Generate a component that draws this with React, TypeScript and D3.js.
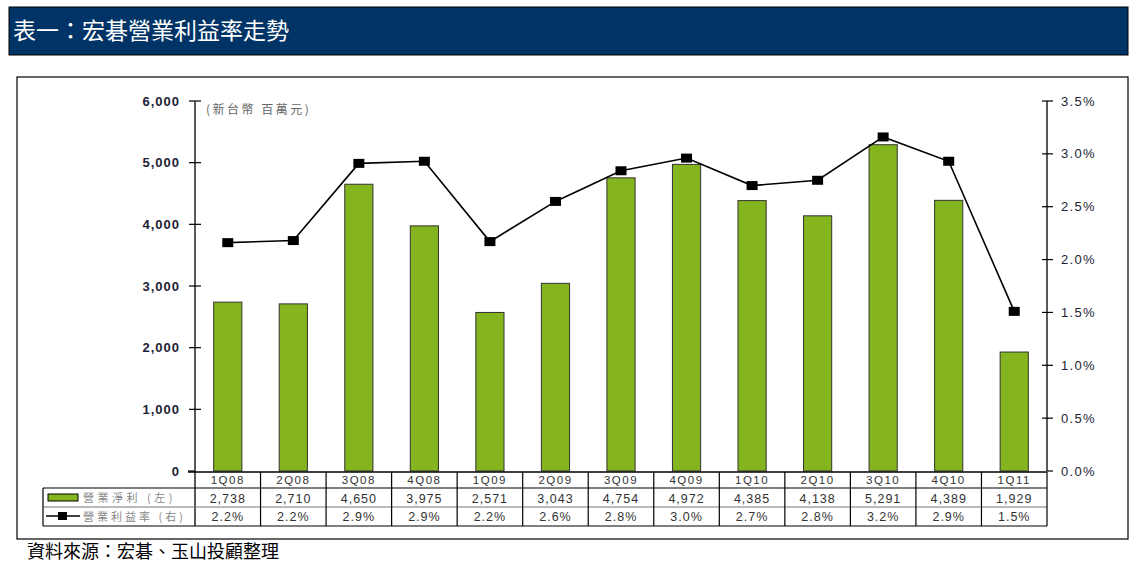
import React from "react";
import * as d3 from "d3";

const categories = ["1Q08","2Q08","3Q08","4Q08","1Q09","2Q09","3Q09","4Q09","1Q10","2Q10","3Q10","4Q10","1Q11"];
const profit = [2738,2710,4650,3975,2571,3043,4754,4972,4385,4138,5291,4389,1929];
const marginPlot = [2.16,2.18,2.91,2.93,2.17,2.55,2.84,2.96,2.70,2.75,3.16,2.93,1.51];
const marginLabels = ["2.2%","2.2%","2.9%","2.9%","2.2%","2.6%","2.8%","3.0%","2.7%","2.8%","3.2%","2.9%","1.5%"];
const leftTicks = [0,1000,2000,3000,4000,5000,6000];
const rightTicks = [0,0.5,1,1.5,2,2.5,3,3.5];

const W = 1145, H = 566;
const X0 = 195, X1 = 1047, Y0 = 471, Y1 = 101;
const ROW0 = 472, ROW1 = 488, ROW2 = 507, ROW3 = 526;
const LEG_X = 43;
const FONT = "'Liberation Sans', Arial, sans-serif";
const CJK = "'Noto Sans CJK TC', 'Noto Sans CJK SC', sans-serif";

export default function App() {
  const x = d3.scaleBand<string>().domain(categories).range([X0, X1]).paddingInner(0).paddingOuter(0);
  const yL = d3.scaleLinear().domain([0, 6000]).range([Y0, Y1]);
  const yR = d3.scaleLinear().domain([0, 3.5]).range([Y0, Y1]);
  const bw = x.bandwidth();
  const barW = bw * 0.43;
  const line = d3.line<number>().x((_, i) => (x(categories[i]) as number) + bw / 2).y(d => yR(d));
  const fmt = d3.format(",");
  return (
    <svg width={W} height={H} style={{ position: "absolute", left: 0, top: 0, background: "#fff" }}>
      {/* title */}
      <rect x={9} y={7} width={1119} height={48} fill="#003366" stroke="#000" strokeWidth={1} />
      <text x={13} y={39} fill="#fff" fontFamily={CJK} fontSize={23}>表一：宏碁營業利益率走勢</text>
      {/* frame */}
      <rect x={17} y={77} width={1111} height={462} fill="none" stroke="#000" strokeWidth={1.2} />
      {/* unit label */}
      <text x={206} y={114} fill="#666" fontFamily={CJK} fontSize={12} letterSpacing={2.5}>(新台幣 百萬元)</text>
      {/* bars */}
      {profit.map((v, i) => (
        <rect key={i} x={(x(categories[i]) as number) + (bw - barW) / 2} y={yL(v)} width={barW} height={Y0 - yL(v)}
          fill="#84B51E" stroke="#333" strokeWidth={1} />
      ))}
      {/* line */}
      <path d={line(marginPlot) || ""} fill="none" stroke="#000" strokeWidth={1.6} />
      {marginPlot.map((v, i) => (
        <rect key={i} x={(x(categories[i]) as number) + bw / 2 - 5.5} y={yR(v) - 4.5} width={11} height={9} fill="#000" />
      ))}
      {/* left axis */}
      <line x1={X0} x2={X0} y1={Y1} y2={ROW3} stroke="#000" strokeWidth={1.3} />
      {leftTicks.map(t => (
        <g key={t}>
          <line x1={t === 0 ? 188 : 189} x2={t === 0 ? X0 : 201} y1={yL(t)} y2={yL(t)} stroke="#000" strokeWidth={1.2} />
          <text x={180} y={yL(t) + 4.5} textAnchor="end" fontFamily={FONT} fontSize={13} fontWeight="bold" letterSpacing={1} fill="#1d2236">{fmt(t)}</text>
        </g>
      ))}
      {/* right axis */}
      <line x1={X1} x2={X1} y1={Y1} y2={Y0} stroke="#000" strokeWidth={1.3} />
      {rightTicks.map(t => (
        <g key={t}>
          <line x1={t === 0 ? X1 : 1042} x2={1053} y1={yR(t)} y2={yR(t)} stroke="#000" strokeWidth={1.2} />
          <text x={1061} y={yR(t) + 4.5} fontFamily={FONT} fontSize={13} letterSpacing={1.3} fill="#1d2236">{d3.format(".1f")(t)}%</text>
        </g>
      ))}
      {/* x axis line */}
      <line x1={188} x2={X1} y1={ROW0} y2={ROW0} stroke="#000" strokeWidth={1.3} />
      {/* table */}
      <line x1={LEG_X} x2={X1} y1={ROW1} y2={ROW1} stroke="#000" strokeWidth={1.2} />
      <line x1={LEG_X} x2={X1} y1={ROW2} y2={ROW2} stroke="#777" strokeWidth={1.2} />
      <line x1={LEG_X} x2={X1} y1={ROW3} y2={ROW3} stroke="#000" strokeWidth={1.2} />
      <line x1={LEG_X} x2={LEG_X} y1={ROW1} y2={ROW3} stroke="#000" strokeWidth={1.2} />
      {categories.map((c) => (
        <line key={c} x1={(x(c) as number) + bw} x2={(x(c) as number) + bw} y1={ROW0} y2={ROW3} stroke="#000" strokeWidth={1.2} />
      ))}
      {categories.map((c, i) => {
        const cx = (x(c) as number) + bw / 2;
        return (
          <g key={c} fontFamily={FONT} fill="#333" textAnchor="middle">
            <text x={cx} y={484} fontSize={11.5} letterSpacing={1.5}>{c}</text>
            <text x={cx} y={503} fontSize={12.5} letterSpacing={1}>{fmt(profit[i])}</text>
            <text x={cx} y={521} fontSize={12.5} letterSpacing={1}>{marginLabels[i]}</text>
          </g>
        );
      })}
      {/* legend */}
      <rect x={48} y={494} width={30} height={7} fill="#84B51E" stroke="#000" strokeWidth={1} />
      <text x={83} y={502} fontFamily={CJK} fontSize={11} fill="#888" letterSpacing={3.5}>營業淨利 (左)</text>
      <line x1={46} x2={80} y1={516} y2={516} stroke="#000" strokeWidth={1.6} />
      <rect x={58} y={512} width={9} height={8} fill="#000" />
      <text x={83} y={521} fontFamily={CJK} fontSize={11} fill="#888" letterSpacing={3}>營業利益率 (右)</text>
      {/* source */}
      <text x={27} y={558} fontFamily={CJK} fontSize={18} fill="#000">資料來源：宏碁、玉山投顧整理</text>
    </svg>
  );
}
